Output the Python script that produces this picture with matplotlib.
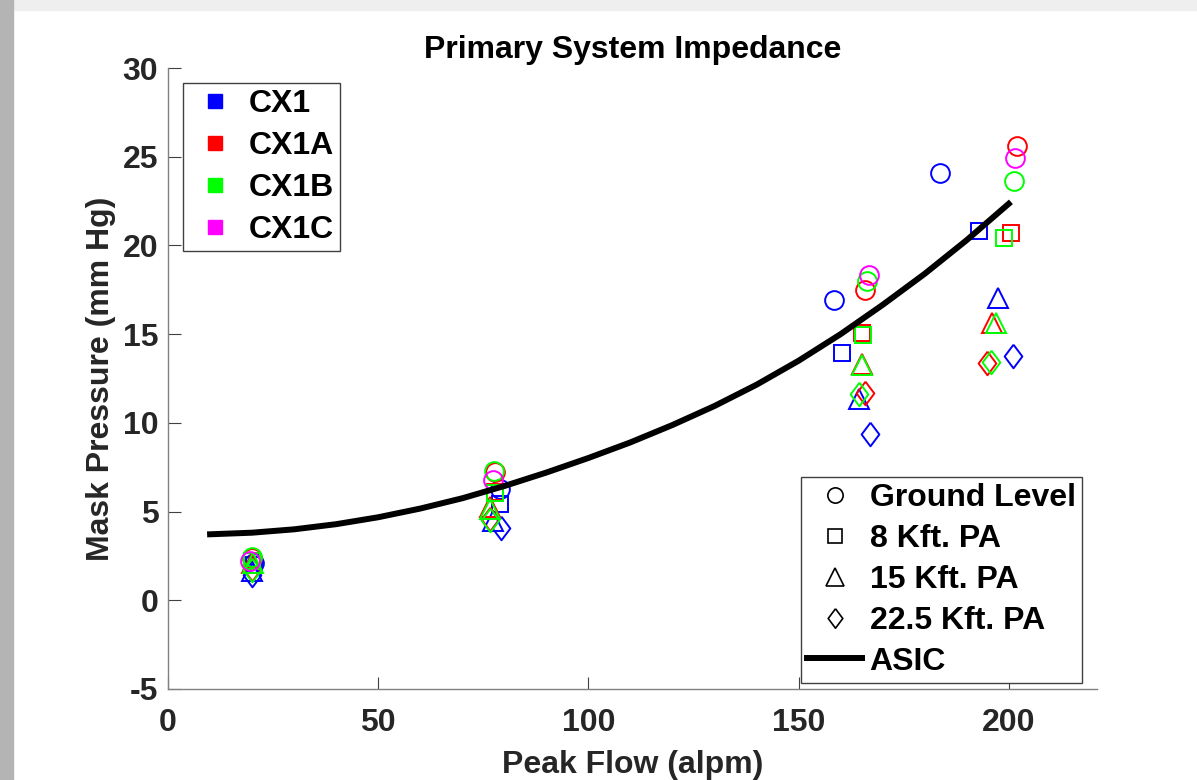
import numpy as np
import matplotlib
matplotlib.use('Agg')
import matplotlib.pyplot as plt
from matplotlib.lines import Line2D
from matplotlib.patches import Rectangle

plt.rcParams['font.family'] = ['Liberation Sans', 'DejaVu Sans']
plt.rcParams['font.weight'] = 'bold'
plt.rcParams['axes.unicode_minus'] = False

# peak flow (alpm) / mask pressure (mm Hg) per device and altitude
cx1_gl_x = [20.5, 79.0, 158.4, 183.6]
cx1_gl_y = [2.1, 6.3, 16.95, 24.1]
cx1_8k_x = [20.5, 78.9, 160.4, 192.9]
cx1_8k_y = [2.0, 5.4, 13.95, 20.8]
cx1_15k_x = [19.9, 77.3, 164.4, 197.5]
cx1_15k_y = [1.65, 4.45, 11.35, 17.05]
cx1_22k_x = [20.0, 79.2, 166.9, 201.0]
cx1_22k_y = [1.4, 4.05, 9.4, 13.75]

cx1a_gl_x = [20.0, 77.7, 165.9, 202.0]
cx1a_gl_y = [2.4, 7.25, 17.5, 25.6]
cx1a_8k_x = [20.0, 77.7, 165.2, 200.5]
cx1a_8k_y = [2.2, 6.1, 15.05, 20.7]
cx1a_15k_x = [20.0, 76.6, 165.2, 196.0]
cx1a_15k_y = [2.1, 5.25, 13.3, 15.65]
cx1a_22k_x = [20.0, 76.6, 165.9, 194.8]
cx1a_22k_y = [1.75, 4.6, 11.7, 13.35]

cx1b_gl_x = [20.0, 77.6, 166.3, 201.3]
cx1b_gl_y = [2.45, 7.3, 18.0, 23.65]
cx1b_8k_x = [20.0, 77.8, 165.4, 199.0]
cx1b_8k_y = [2.2, 6.05, 14.95, 20.4]
cx1b_15k_x = [20.2, 76.5, 165.2, 197.0]
cx1b_15k_y = [2.1, 5.15, 13.25, 15.65]
cx1b_22k_x = [19.9, 76.5, 164.4, 195.9]
cx1b_22k_y = [1.7, 4.55, 11.6, 13.45]

cx1c_gl_x = [19.5, 77.3, 166.7, 201.6]
cx1c_gl_y = [2.2, 6.8, 18.35, 24.95]

# ASIC curve
asic_x = [10, 20, 30, 40, 50, 60, 70, 80, 90, 100, 110, 120, 130, 140, 150, 160, 170, 180, 190, 200]
asic_y = [3.72, 3.81, 4.0, 4.29, 4.68, 5.17, 5.75, 6.44, 7.2, 8.02, 8.9, 9.88, 10.95, 12.15,
          13.5, 15.0, 16.65, 18.4, 20.3, 22.35]

devices = ['CX1', 'CX1A', 'CX1B', 'CX1C']
colors = ['#0000ff', '#ff0000', '#00ff00', '#ff00ff']
altitudes = ['Ground Level', '8 Kft. PA', '15 Kft. PA', '22.5 Kft. PA']

# MATLAB-ish diamond (wider than mpl 'd')
diamond = [(0, 1), (0.75, 0), (0, -1), (-0.75, 0), (0, 1)]
markers = ['o', 's', '^', diamond]
msizes = [13.5, 11.5, 15, 17]

series = [
    [(cx1_gl_x, cx1_gl_y), (cx1_8k_x, cx1_8k_y), (cx1_15k_x, cx1_15k_y), (cx1_22k_x, cx1_22k_y)],
    [(cx1a_gl_x, cx1a_gl_y), (cx1a_8k_x, cx1a_8k_y), (cx1a_15k_x, cx1a_15k_y), (cx1a_22k_x, cx1a_22k_y)],
    [(cx1b_gl_x, cx1b_gl_y), (cx1b_8k_x, cx1b_8k_y), (cx1b_15k_x, cx1b_15k_y), (cx1b_22k_x, cx1b_22k_y)],
    [(cx1c_gl_x, cx1c_gl_y)],
]

fig = plt.figure(figsize=(11.97, 7.8), dpi=100)
# screenshot frame
fig.patches.append(Rectangle((0, 0.987), 1, 0.013, transform=fig.transFigure, color='#efefef', zorder=0))
fig.patches.append(Rectangle((0, 0), 0.011, 1, transform=fig.transFigure, color='#b4b4b4', zorder=0))

ax = fig.add_axes([0.1404, 0.1167, 0.776, 0.796])

for c, dev in zip(colors, series):
    for i, (x, y) in enumerate(dev):
        ax.plot(x, y, linestyle='none', marker=markers[i], markersize=msizes[i],
                markerfacecolor='none', markeredgecolor=c, markeredgewidth=1.4)

ax.plot(asic_x, asic_y, color='black', linewidth=4.3, solid_joinstyle='round')

ax.set_xlim(0, 221)
ax.set_ylim(-5, 30)
ax.set_xticks([0, 50, 100, 150, 200])
ax.set_yticks([-5, 0, 5, 10, 15, 20, 25, 30])
for s in ['top', 'right']:
    ax.spines[s].set_visible(False)
for s in ['left', 'bottom']:
    ax.spines[s].set_color('#808080')
    ax.spines[s].set_linewidth(1.0)
ax.tick_params(direction='in', length=9, width=0.8, color='#404040', labelsize=23, labelcolor='#262626')
ax.tick_params(axis='x', pad=14)
ax.tick_params(axis='y', pad=7)

ax.set_xlabel('Peak Flow (alpm)', fontsize=23, fontweight='bold', color='#262626', labelpad=8)
ax.set_ylabel('Mask Pressure (mm Hg)', fontsize=23, fontweight='bold', color='#262626', labelpad=5)
ax.set_title('Primary System Impedance', fontsize=23, fontweight='bold', color='black', pad=7)

dev_handles = [Line2D([], [], linestyle='none', marker='s', markersize=10, color=c) for c in colors]
leg1 = ax.legend(dev_handles, devices, loc='upper left', bbox_to_anchor=(0.016, 0.976),
                 borderaxespad=0, fontsize=23, frameon=True, fancybox=False, framealpha=1,
                 edgecolor='#404040', borderpad=0.2, labelspacing=0.37, handlelength=1.6,
                 handletextpad=0.25)
leg1.get_frame().set_linewidth(1.0)
ax.add_artist(leg1)

alt_handles = [Line2D([], [], linestyle='none', marker=m, markersize=ms, markerfacecolor='none',
                      markeredgecolor='black', markeredgewidth=1.2)
               for m, ms in zip(['o', 's', '^', diamond], [11, 10, 13, 14])]
alt_handles.append(Line2D([], [], color='black', linewidth=4.3))
leg2 = ax.legend(alt_handles, altitudes + ['ASIC'], loc='lower right', bbox_to_anchor=(0.984, 0.0097),
                 borderaxespad=0, fontsize=23, frameon=True, fancybox=False, framealpha=1,
                 edgecolor='#404040', borderpad=0.2, labelspacing=0.34, handlelength=1.7,
                 handletextpad=0.25)
leg2.get_frame().set_linewidth(1.0)

fig.savefig('out.png', dpi=100)
